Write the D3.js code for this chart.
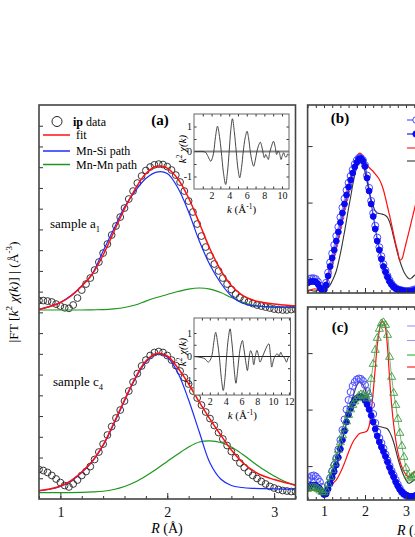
<!DOCTYPE html>
<html>
<head>
<meta charset="utf-8">
<script src="https://cdn.jsdelivr.net/npm/d3@7"></script>
<style>
  body { margin: 0; background: #fff; }
  svg { display: block; font-family: "Liberation Serif", "Times New Roman", serif; }
</style>
</head>
<body>
<div id="fig"></div>
<script>
// ---------- panel (a): |FT| vs R, two samples ----------
const rCirc = [0.80,0.84,0.88,0.92,0.96,1.00,1.04,1.08,1.12,1.16,1.20,1.24,1.28,1.32,1.36,1.40,1.44,1.48,1.52,1.56,
  1.60,1.64,1.68,1.72,1.76,1.80,1.84,1.88,1.92,1.96,2.00,2.04,2.08,2.12,2.16,2.20,2.24,2.28,2.32,2.36,
  2.40,2.44,2.48,2.52,2.56,2.60,2.64,2.68,2.72,2.76,2.80,2.84,2.88,2.92,2.96,3.00,3.04,3.08,3.12,3.16,3.20];
const ipA1 = [1.914,1.914,1.909,1.900,1.880,1.861,1.844,1.839,1.871,1.938,2.015,2.073,2.131,2.208,2.285,2.372,2.459,2.546,2.633,2.719,
  2.806,2.893,2.970,3.047,3.115,3.168,3.202,3.223,3.230,3.226,3.206,3.173,3.124,3.057,2.970,2.874,2.768,2.652,2.536,2.430,
  2.343,2.266,2.199,2.131,2.073,2.020,1.977,1.943,1.919,1.900,1.885,1.871,1.861,1.851,1.842,1.832,1.827,1.823,1.823,1.827,1.832];
const ipC4 = [0.284,0.275,0.256,0.227,0.193,0.159,0.130,0.116,0.145,0.183,0.227,0.265,0.313,0.381,0.453,0.530,0.617,0.699,0.781,0.858,
  0.945,1.041,1.128,1.210,1.283,1.340,1.384,1.413,1.422,1.413,1.384,1.340,1.287,1.234,1.172,1.109,1.041,0.974,0.906,0.839,
  0.776,0.709,0.641,0.579,0.516,0.458,0.400,0.347,0.304,0.260,0.227,0.198,0.169,0.145,0.121,0.106,0.092,0.082,0.077,0.072,0.072];

const rFit = [0.8,0.9,1.0,1.1,1.2,1.3,1.4,1.5,1.6,1.7,1.8,1.9,2.0,2.1,2.2,2.3,2.4,2.5,2.6,2.7,2.8,2.9,3.0,3.1,3.2];
const fitA1 = [1.829,1.856,1.895,1.958,2.054,2.170,2.353,2.575,2.797,2.989,3.139,3.209,3.192,3.086,2.903,2.662,2.411,2.208,2.059,1.967,1.919,1.895,1.880,1.871,1.861];
const siA1  = [1.829,1.856,1.895,1.962,2.054,2.175,2.392,2.604,2.816,2.970,3.091,3.153,3.139,2.999,2.768,2.488,2.256,2.083,1.958,1.890,1.866,1.856,1.851,1.851,1.851];
const mnA1  = [1.823,1.823,1.823,1.823,1.823,1.825,1.827,1.834,1.847,1.871,1.909,1.943,1.972,2.001,2.025,2.035,2.025,1.991,1.943,1.900,1.871,1.856,1.851,1.847,1.847];
const fitC4 = [0.080,0.096,0.125,0.178,0.260,0.366,0.521,0.733,0.955,1.167,1.331,1.403,1.379,1.263,1.109,0.935,0.771,0.617,0.473,0.357,0.275,0.222,0.188,0.159,0.135];
const siC4  = [0.080,0.094,0.121,0.174,0.256,0.362,0.516,0.723,0.945,1.157,1.321,1.398,1.369,1.215,0.955,0.646,0.347,0.193,0.130,0.111,0.103,0.100,0.098,0.096,0.094];
const mnC4  = [0.061,0.061,0.061,0.062,0.064,0.068,0.075,0.092,0.121,0.164,0.222,0.289,0.362,0.434,0.501,0.550,0.561,0.545,0.501,0.434,0.357,0.284,0.222,0.169,0.130];

// insets: k^2 chi(k)
const k1 = [0,0.5,1.0,1.3,1.6,1.9,2.1,2.25,2.45,2.67,2.9,3.1,3.35,3.6,3.8,4.0,4.18,4.37,4.58,4.8,
  5.0,5.2,5.4,5.6,5.82,6.03,6.22,6.4,6.6,6.78,6.97,7.15,7.35,7.54,7.77,8.0,8.15,8.3,8.45,8.6,
  8.8,9.04,9.22,9.4,9.55,9.7,9.9,10.05,10.2,10.35,10.5,10.65,10.8];
const chi1 = [0,0,0,-0.03,-0.2,-0.39,-0.25,0,0.6,1.01,0.6,0,-0.85,-1.32,-0.85,0,0.85,1.31,0.8,0,
  -0.7,-1.05,-0.65,0,0.55,0.81,0.5,0,-0.4,-0.59,-0.35,0,0.25,0.37,0.1,-0.25,-0.12,-0.22,-0.32,-0.05,
  0.2,0.41,0.2,-0.12,0.02,-0.05,-0.32,-0.15,-0.05,-0.2,-0.22,-0.1,-0.15];
const k2 = [0,0.5,1.0,1.4,1.8,2.05,2.3,2.5,2.74,2.98,3.2,3.45,3.7,3.92,4.12,4.33,4.56,4.76,4.95,5.12,
  5.3,5.5,5.7,5.9,6.12,6.3,6.45,6.6,6.75,6.95,7.15,7.35,7.55,7.75,7.95,8.15,8.35,8.6,8.85,9.1,
  9.45,9.65,9.83,10.05,10.3,10.55,10.75,10.97,11.15,11.3,11.5,11.7,11.9,12.1];
const chi2 = [0,-0.02,-0.05,-0.1,-0.24,-0.15,0.1,0.6,1.03,0.6,0,-0.9,-1.45,-0.9,0,0.75,1.18,0.7,0,-0.7,
  -1.14,-0.65,0,0.45,0.68,0.35,0,-0.35,-0.6,-0.1,0.25,0.1,-0.35,0.0,0.26,0.05,-0.24,-0.05,0.15,0.35,
  0.54,0.1,-0.45,-0.15,0.05,0.11,0.0,0.18,0.05,0.0,-0.1,-0.24,-0.05,0.0];

// ---------- panels (b) and (c) ----------
const rBC = [0.60,0.65,0.70,0.75,0.80,0.85,0.90,0.95,1.00,1.05,1.10,1.15,1.20,1.25,1.30,1.35,1.40,1.45,1.50,1.55,
  1.60,1.65,1.70,1.75,1.80,1.85,1.90,1.95,2.00,2.05,2.10,2.15,2.20,2.25,2.30,2.35,2.40,2.45,2.50,2.55,
  2.60,2.65,2.70,2.75,2.80,2.85,2.90,2.95,3.00,3.05,3.10,3.15,3.20,3.25];
const bOpen = [0.62,0.65,0.66,0.66,0.645,0.60,0.53,0.47,0.47,0.58,0.76,0.94,1.10,1.25,1.41,1.57,1.74,1.91,2.07,2.22,
  2.35,2.47,2.58,2.68,2.75,2.79,2.79,2.75,2.66,2.48,2.26,2.03,1.81,1.59,1.38,1.21,1.05,0.91,0.80,0.70,
  0.62,0.56,0.515,0.485,0.465,0.455,0.445,0.44,0.435,0.435,0.44,0.45,0.46,0.47];
const bFilled = [0.577,0.595,0.604,0.604,0.595,0.559,0.497,0.444,0.453,0.542,0.701,0.869,1.019,1.161,1.320,1.480,1.648,1.816,1.975,2.135,
  2.276,2.400,2.524,2.630,2.710,2.772,2.781,2.736,2.639,2.435,2.205,1.975,1.754,1.533,1.320,1.161,1.002,0.869,0.772,0.683,
  0.604,0.550,0.506,0.480,0.462,0.453,0.444,0.435,0.427,0.427,0.427,0.435,0.444,0.453];
const bRed = [0.427,0.444,0.462,0.471,0.471,0.462,0.453,0.462,0.488,0.542,0.639,0.772,0.913,1.073,1.223,1.373,1.550,1.727,1.896,2.046,
  2.214,2.373,2.524,2.683,2.798,2.869,2.869,2.807,2.727,2.665,2.621,2.586,2.550,2.506,2.462,2.409,2.329,2.223,2.081,1.922,
  1.772,1.604,1.435,1.267,1.126,0.984,1.002,1.126,1.276,1.418,1.568,1.719,1.869,2.011];
const bBlack = [0.444,0.453,0.444,0.435,0.435,0.444,0.453,0.462,0.462,0.471,0.497,0.542,0.612,0.692,0.789,0.931,1.099,1.285,1.480,1.692,
  1.904,2.099,2.311,2.488,2.648,2.754,2.781,2.701,2.542,2.365,2.205,2.055,1.940,1.851,1.816,1.807,1.798,1.789,1.772,1.736,
  1.657,1.533,1.382,1.232,1.090,0.966,0.860,0.772,0.710,0.665,0.648,0.674,0.710,0.736];
const cRed = [0.568,0.586,0.595,0.586,0.568,0.559,0.550,0.542,0.550,0.577,0.612,0.648,0.683,0.719,0.754,0.816,0.887,0.966,1.055,1.152,
  1.250,1.338,1.418,1.480,1.524,1.568,1.586,1.595,1.604,1.621,1.710,1.958,2.311,2.736,3.143,3.391,3.550,3.550,3.444,3.090,
  2.559,2.081,1.727,1.462,1.250,1.090,0.984,0.904,0.851,0.816,0.825,0.860,0.896,0.913];
const cGreen = [0.595,0.612,0.621,0.621,0.612,0.595,0.568,0.542,0.533,0.577,0.683,0.807,0.931,1.046,1.152,1.285,1.418,1.542,1.665,1.789,
  1.904,2.002,2.081,2.143,2.196,2.241,2.267,2.258,2.232,2.196,2.276,2.542,2.807,3.055,3.267,3.427,3.524,3.542,3.497,3.320,
  2.931,2.577,2.294,2.081,1.834,1.586,1.356,1.161,0.966,0.834,0.781,0.807,0.834,0.851];
const cOpen = [0.754,0.789,0.825,0.834,0.816,0.772,0.719,0.630,0.515,0.542,0.665,0.789,0.913,1.019,1.143,1.294,1.462,1.639,1.825,2.002,
  2.170,2.311,2.418,2.488,2.533,2.550,2.542,2.506,2.435,2.329,2.214,2.081,1.922,1.763,1.604,1.497,1.409,1.312,1.205,1.099,
  1.002,0.913,0.834,0.754,0.674,0.604,0.542,0.506,0.480,0.462,0.453,0.453,0.462,0.471];
const cFilled = [0.621,0.648,0.665,0.665,0.657,0.630,0.595,0.542,0.497,0.506,0.595,0.692,0.798,0.904,1.019,1.152,1.303,1.462,1.621,1.781,
  1.913,2.019,2.108,2.170,2.205,2.223,2.232,2.214,2.161,2.090,2.002,1.896,1.781,1.657,1.533,1.427,1.338,1.258,1.170,1.073,
  0.975,0.887,0.807,0.719,0.648,0.586,0.542,0.506,0.488,0.471,0.462,0.462,0.471,0.480];
const cBlack = [0.550,0.568,0.577,0.577,0.568,0.559,0.550,0.542,0.542,0.559,0.595,0.648,0.719,0.807,0.949,1.108,1.276,1.444,1.621,1.798,
  1.966,2.081,2.214,2.329,2.427,2.480,2.480,2.435,2.365,2.241,2.099,1.958,1.834,1.745,1.710,1.701,1.692,1.683,1.674,1.657,
  1.604,1.524,1.418,1.285,1.143,1.019,0.913,0.825,0.754,0.701,0.701,0.727,0.754,0.772];

// ticks and labels
const rMajor = [1, 2, 3];
const rMajorLabels = ['1', '2', '3'];
const kTicks1 = [2, 4, 6, 8, 10];
const kTicks2 = [2, 4, 6, 8, 10, 12];
const chiTicks = [-1, 0, 1];
const chiTickLabels = ['-1', '0', '1'];
const bcYTicks = [1, 2, 3];
const legendA = ['fit', 'Mn-Si path', 'Mn-Mn path'];

const RED = '#ff1010', BLUE = '#1a2cff', GREEN = '#1c961c';
const width = 415, height = 537;

const svg = d3.select('#fig').append('svg')
    .attr('width', width)
    .attr('height', height);

function clip(id, x0, y0, x1, y1) {
    svg.append('clipPath').attr('id', id).append('rect')
        .attr('x', x0).attr('y', y0).attr('width', x1 - x0).attr('height', y1 - y0);
}

function styleAxis(g, size) {
    g.select('.domain').remove();
    g.attr('font-family', '"Liberation Serif", serif').attr('font-size', size || 14);
    g.selectAll('.tick line').attr('stroke', '#333');
    g.selectAll('.tick text').attr('fill', '#111');
}

// ================= panel (a) =================
const xA = d3.scaleLinear().domain([0.8, 3.2]).range([39, 295.5]);
const yA = d3.scaleLinear().domain([0, 3.8]).range([499, 105]);
clip('clipA', 39, 105, 295.5, 499);

const gA = svg.append('g').attr('clip-path', 'url(#clipA)');
[ipA1, ipC4].forEach(series => {
    gA.append('g').selectAll('circle').data(series).join('circle')
        .attr('cx', (d, i) => xA(rCirc[i]))
        .attr('cy', d => yA(d))
        .attr('r', 3.4)
        .attr('fill', 'none')
        .attr('stroke', '#222')
        .attr('stroke-width', 0.9);
});
const lineA = d3.line().x((d, i) => xA(rFit[i])).y(d => yA(d)).curve(d3.curveCatmullRom);
[[mnA1, GREEN, 1.2], [siA1, BLUE, 1.2], [fitA1, RED, 1.5],
 [mnC4, GREEN, 1.2], [siC4, BLUE, 1.2], [fitC4, RED, 1.5]].forEach(([s, c, w]) => {
    gA.append('path').datum(s).attr('d', lineA)
        .attr('fill', 'none').attr('stroke', c).attr('stroke-width', w);
});

// axes (a)
svg.append('g').attr('transform', 'translate(0,499)')
    .call(d3.axisBottom(xA).tickValues(d3.range(0.8, 3.21, 0.2)).tickSize(-3).tickFormat(''))
    .call(styleAxis);
svg.append('g').attr('transform', 'translate(0,499)')
    .call(d3.axisBottom(xA).tickValues(rMajor).tickSize(-6).tickPadding(8)
        .tickFormat((d, i) => rMajorLabels[i]))
    .call(styleAxis);
svg.append('g').attr('transform', 'translate(39,0)')
    .call(d3.axisLeft(yA).tickValues(d3.range(0.2, 3.7, 0.2)).tickSize(-4).tickFormat(''))
    .call(styleAxis);
svg.append('rect').attr('x', 39).attr('y', 105).attr('width', 256.5).attr('height', 394)
    .attr('fill', 'none').attr('stroke', '#444').attr('stroke-width', 1.6);

// axis titles (a)
const xt = svg.append('text').attr('x', 167).attr('y', 533).attr('text-anchor', 'middle').attr('font-size', 14);
xt.append('tspan').attr('font-style', 'italic').text('R');
xt.append('tspan').text(' (Å)');

const yl = svg.append('text').attr('transform', 'translate(18,292) rotate(-90)')
    .attr('text-anchor', 'middle').attr('font-size', 13.5);
yl.append('tspan').text('|FT [');
yl.append('tspan').attr('font-style', 'italic').text('k');
yl.append('tspan').attr('dy', -6).attr('font-size', 9).text('2');
yl.append('tspan').attr('dy', 6).text(' ');
yl.append('tspan').attr('font-style', 'italic').text('χ(k)');
yl.append('tspan').text('] | (Å');
yl.append('tspan').attr('dy', -6).attr('font-size', 9).text('-3');
yl.append('tspan').attr('dy', 6).text(')');

// legend (a)
svg.append('circle').attr('cx', 57).attr('cy', 121.5).attr('r', 5)
    .attr('fill', 'none').attr('stroke', '#222').attr('stroke-width', 1);
const lt = svg.append('text').attr('x', 73).attr('y', 125.5).attr('font-size', 12);
lt.append('tspan').attr('font-weight', 'bold').text('ip');
lt.append('tspan').text(' data');
[RED, BLUE, GREEN].forEach((c, i) => {
    const y = [135, 151, 164.5][i];
    svg.append('line').attr('x1', 43).attr('x2', 70).attr('y1', y).attr('y2', y)
        .attr('stroke', c).attr('stroke-width', 1.5);
    svg.append('text').attr('x', 76).attr('y', y + 4).attr('font-size', 12).text(legendA[i]);
});

svg.append('text').attr('x', 160).attr('y', 125).attr('text-anchor', 'middle')
    .attr('font-size', 15).attr('font-weight', 'bold').text('(a)');

function sampleLabel(x, y, main, sub) {
    const t = svg.append('text').attr('x', x).attr('y', y).attr('font-size', 13);
    t.append('tspan').text(main);
    t.append('tspan').attr('dy', 4).attr('font-size', 8.5).text(sub);
}
sampleLabel(50, 228, 'sample a', '1');
sampleLabel(53, 386, 'sample c', '4');

// insets
function inset(x0, y0, x1, y1, kMax, cMax, ks, cs, kTicks, zeroColor, zeroWidth, ylabY) {
    const xs = d3.scaleLinear().domain([0, kMax]).range([x0, x1]);
    const ys = d3.scaleLinear().domain([-cMax, cMax]).range([y1, y0]);
    svg.append('rect').attr('x', x0).attr('y', y0).attr('width', x1 - x0).attr('height', y1 - y0)
        .attr('fill', '#fff');
    const kMinor = d3.range(1, kMax, 1);
    svg.append('g').attr('transform', `translate(0,${y1})`)
        .call(d3.axisBottom(xs).tickValues(kMinor).tickSize(-2.5).tickFormat('')).call(styleAxis);
    svg.append('g').attr('transform', `translate(0,${y0})`)
        .call(d3.axisTop(xs).tickValues(kMinor).tickSize(-2.5).tickFormat('')).call(styleAxis);
    svg.append('g').attr('transform', `translate(0,${y1})`)
        .call(d3.axisBottom(xs).tickValues(kTicks).tickSize(0).tickPadding(3))
        .call(g => styleAxis(g, 10));
    svg.append('g').attr('transform', `translate(${x0},0)`)
        .call(d3.axisLeft(ys).tickValues([-1, -0.5, 0.5, 1]).tickSize(-2.5).tickFormat('')).call(styleAxis);
    svg.append('g').attr('transform', `translate(${x1},0)`)
        .call(d3.axisRight(ys).tickValues([-1, -0.5, 0.5, 1]).tickSize(-2.5).tickFormat('')).call(styleAxis);
    svg.append('g').attr('transform', `translate(${x0},0)`)
        .call(d3.axisLeft(ys).tickValues(chiTicks).tickSize(0).tickPadding(2)
            .tickFormat((d, i) => chiTickLabels[i]))
        .call(g => styleAxis(g, 10));
    svg.append('line').attr('x1', x0).attr('x2', x1).attr('y1', ys(0)).attr('y2', ys(0))
        .attr('stroke', zeroColor).attr('stroke-width', zeroWidth);
    svg.append('path').datum(cs)
        .attr('d', d3.line().x((d, i) => xs(ks[i])).y(d => ys(d)).curve(d3.curveCatmullRom))
        .attr('fill', 'none').attr('stroke', '#333').attr('stroke-width', 0.9);
    svg.append('rect').attr('x', x0).attr('y', y0).attr('width', x1 - x0).attr('height', y1 - y0)
        .attr('fill', 'none').attr('stroke', '#666').attr('stroke-width', 1);
    const kl = svg.append('text').attr('x', (x0 + x1) / 2).attr('y', y1 + 24)
        .attr('text-anchor', 'middle').attr('font-size', 11);
    kl.append('tspan').attr('font-style', 'italic').text('k');
    kl.append('tspan').text(' (Å');
    kl.append('tspan').attr('dy', -4).attr('font-size', 7.5).text('-1');
    kl.append('tspan').attr('dy', 4).text(')');
    const yl2 = svg.append('text').attr('transform', `translate(${x0 - 8},${ylabY}) rotate(-90)`)
        .attr('text-anchor', 'middle').attr('font-size', 11);
    yl2.append('tspan').attr('font-style', 'italic').text('k');
    yl2.append('tspan').attr('dy', -4).attr('font-size', 7.5).text('2');
    yl2.append('tspan').attr('dy', 4).attr('font-style', 'italic').text(' χ(k)');
}
inset(194, 114, 289, 189, 10.8, 1.5, k1, chi1, kTicks1, '#888', 2, 149);
inset(194, 318, 290.5, 395, 12.2, 1.64, k2, chi2, kTicks2, '#222', 1, 352);

// ================= panels (b) and (c) =================
const xBC = d3.scaleLinear().domain([0.6, 3.6]).range([307.6, 430.6]);
const yB = d3.scaleLinear().domain([0.4, 3.727]).range([293, 105]);
const yC = d3.scaleLinear().domain([0.4, 3.816]).range([500, 307]);
clip('clipB', 307.6, 105, 430, 293);
clip('clipC', 307.6, 307, 430, 500);

function bcLine(g, ys, s, color, w) {
    g.append('path').datum(s)
        .attr('d', d3.line().x((d, i) => xBC(rBC[i])).y(d => ys(d)).curve(d3.curveCatmullRom))
        .attr('fill', 'none').attr('stroke', color).attr('stroke-width', w);
}
function bcCircles(g, ys, s, color, filled, r) {
    bcLine(g, ys, s, color, 0.7);
    g.append('g').selectAll('circle').data(s).join('circle')
        .attr('cx', (d, i) => xBC(rBC[i])).attr('cy', d => ys(d)).attr('r', r)
        .attr('fill', filled ? color : 'none').attr('stroke', color).attr('stroke-width', 1);
}

const gB = svg.append('g').attr('clip-path', 'url(#clipB)');
bcLine(gB, yB, bBlack, '#333', 1.1);
bcLine(gB, yB, bRed, RED, 1.2);
bcCircles(gB, yB, bOpen, '#4a4aff', false, 3.5);
bcCircles(gB, yB, bFilled, '#0a0af0', true, 2.9);

const gC = svg.append('g').attr('clip-path', 'url(#clipC)');
bcLine(gC, yC, cBlack, '#333', 1.1);
bcLine(gC, yC, cRed, RED, 1.2);
bcCircles(gC, yC, cOpen, '#4a4aff', false, 3.5);
bcCircles(gC, yC, cFilled, '#0a0af0', true, 2.9);
bcLine(gC, yC, cGreen, '#3c9a3c', 0.7);
gC.append('g').selectAll('path').data(cGreen).join('path')
    .attr('transform', (d, i) => `translate(${xBC(rBC[i])},${yC(d)})`)
    .attr('d', d3.symbol(d3.symbolTriangle, 28))
    .attr('fill', 'none').attr('stroke', '#3c9a3c').attr('stroke-width', 0.9);

function bcFrame(ys, y0, y1, labels) {
    svg.append('g').attr('transform', `translate(0,${y1})`)
        .call(d3.axisBottom(xBC).tickValues(d3.range(0.6, 3.61, 0.2)).tickSize(-3).tickFormat('')).call(styleAxis);
    svg.append('g').attr('transform', `translate(0,${y0})`)
        .call(d3.axisTop(xBC).tickValues(d3.range(0.6, 3.61, 0.2)).tickSize(-3).tickFormat('')).call(styleAxis);
    svg.append('g').attr('transform', `translate(0,${y1})`)
        .call(d3.axisBottom(xBC).tickValues(rMajor).tickSize(-5).tickPadding(6)
            .tickFormat((d, i) => labels ? rMajorLabels[i] : ''))
        .call(styleAxis);
    svg.append('g').attr('transform', `translate(307.6,0)`)
        .call(d3.axisLeft(ys).tickValues(bcYTicks).tickSize(-5).tickFormat('')).call(styleAxis);
    svg.append('rect').attr('x', 307.6).attr('y', y0).attr('width', 130).attr('height', y1 - y0)
        .attr('fill', 'none').attr('stroke', '#444').attr('stroke-width', 1.6);
}
bcFrame(yB, 105, 293, false);
bcFrame(yC, 307, 500, true);

svg.append('text').attr('x', 340).attr('y', 123).attr('text-anchor', 'middle')
    .attr('font-size', 15).attr('font-weight', 'bold').text('(b)');
svg.append('text').attr('x', 340).attr('y', 332).attr('text-anchor', 'middle')
    .attr('font-size', 15).attr('font-weight', 'bold').text('(c)');
const xt2 = svg.append('text').attr('x', 397).attr('y', 535).attr('font-size', 14);
xt2.append('tspan').attr('font-style', 'italic').text('R');
xt2.append('tspan').text(' (Å)');

// legend stubs at the cropped right edge
function legendRow(y, color, marker) {
    svg.append('line').attr('x1', 407).attr('x2', 432).attr('y1', y).attr('y2', y)
        .attr('stroke', color).attr('stroke-width', marker === 'thick' ? 2 : 1.1);
    if (marker === 'open' || marker === 'filled') {
        svg.append('circle').attr('cx', 416).attr('cy', y).attr('r', 3.2)
            .attr('fill', marker === 'filled' ? color : '#fff').attr('stroke', color);
    }
}
legendRow(120, '#4a4aff', 'open');
legendRow(134, '#0a0af0', 'filled');
legendRow(148, RED);
legendRow(161, '#333');
legendRow(326, '#9a9aff');
legendRow(340.5, '#9a9aff');
legendRow(355, '#8fcf8f', 'thick');
legendRow(367, RED);
legendRow(379, '#333');
</script>
</body>
</html>
